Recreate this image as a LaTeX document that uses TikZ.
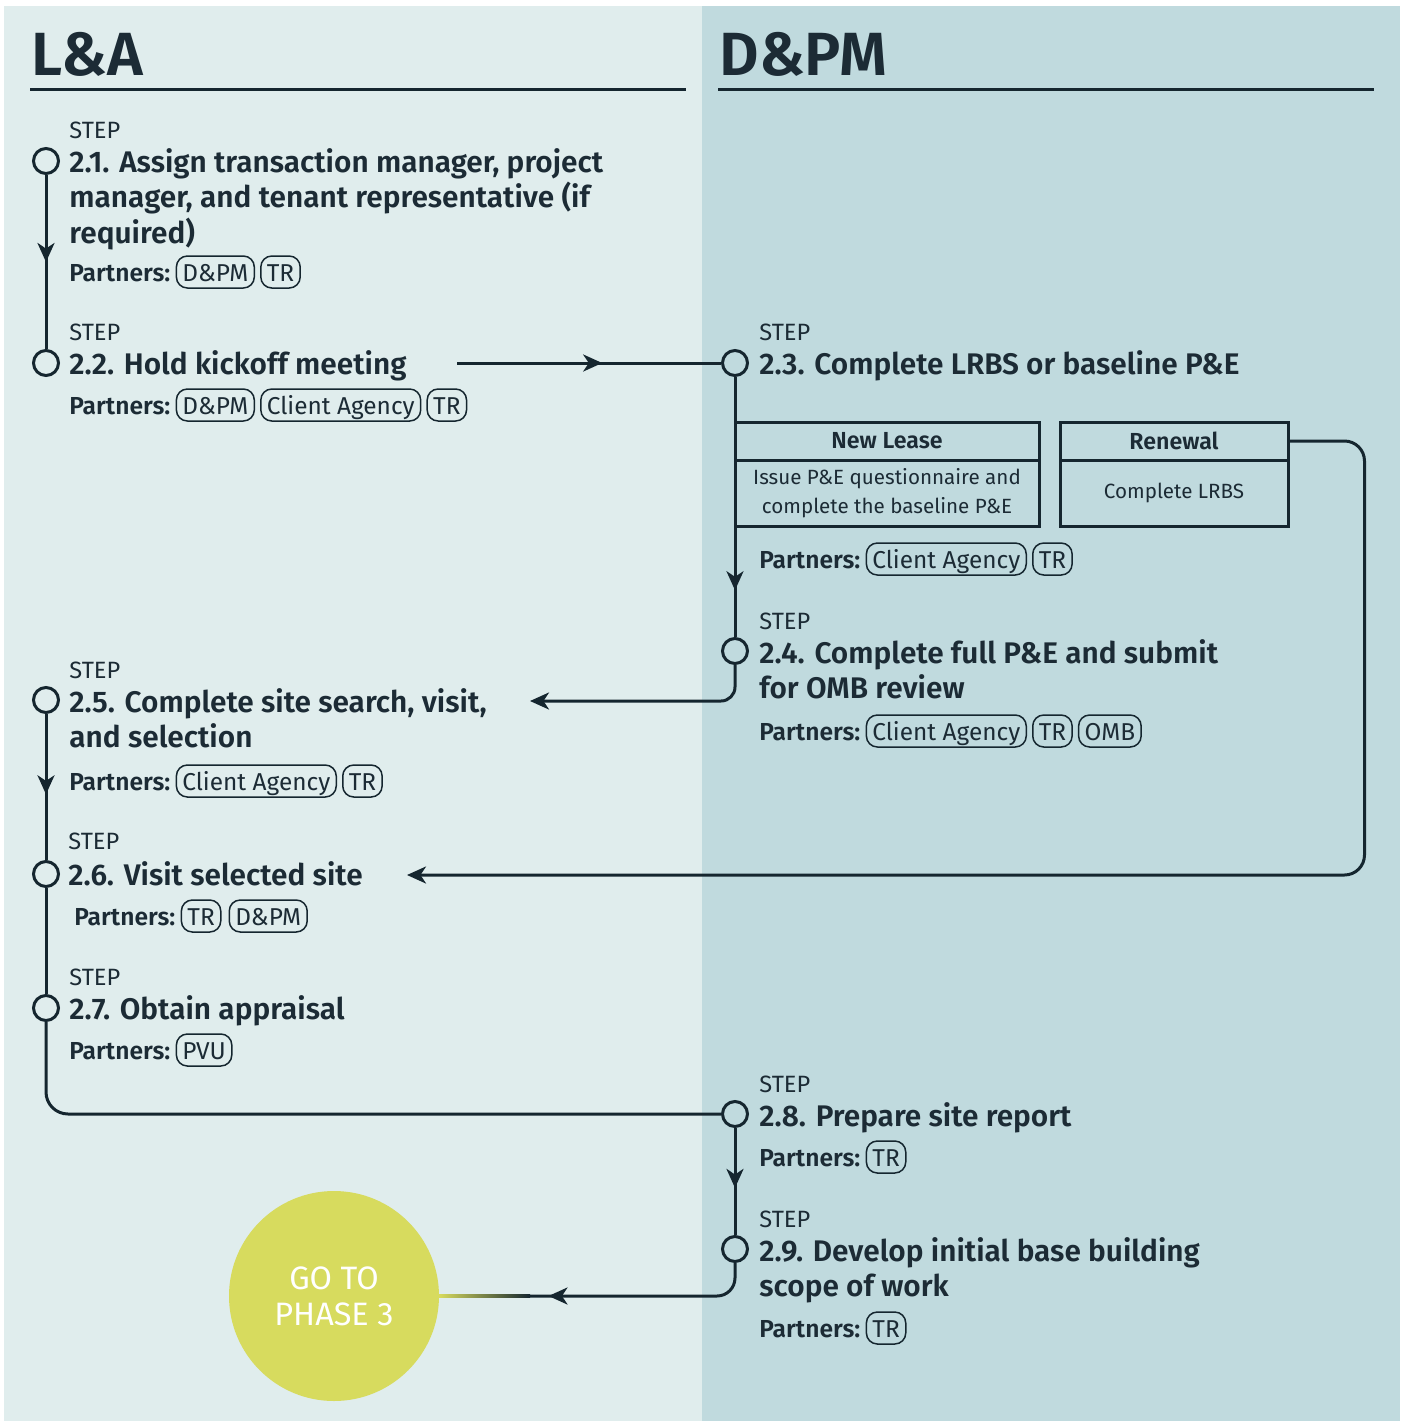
\documentclass[tikz,border=0pt]{standalone}
\usepackage{fontspec}
\setmainfont{Fira Sans}[BoldFont={Fira Sans SemiBold}]
\usetikzlibrary{arrows.meta,decorations.markings,calc}
\definecolor{bgL}{HTML}{E0EDED}
\definecolor{bgR}{HTML}{C0DADE}
\definecolor{ink}{HTML}{15262F}
\definecolor{txt}{HTML}{1C2B35}
\definecolor{goy}{HTML}{D7DB5E}
\begin{document}
\begin{tikzpicture}[x=0.5pt,y=-0.5pt,
  tip/.tip={Stealth[length=9.5pt,width=8.5pt,inset=2.8pt]},
  conn/.style={draw=ink,line width=1.5pt},
  midarrow/.style={postaction={decorate},decoration={markings,mark=at position #1 with {\arrow{tip}}}},
  stepdot/.style={circle,draw=ink,line width=1.5pt,minimum size=12.5pt,inner sep=0pt,fill=none},
  hdr/.style={anchor=base west,inner sep=0pt,font=\fontsize{30.5}{36}\selectfont\bfseries,text=txt},
  steplbl/.style={anchor=base west,inner sep=0pt,font=\fontsize{11.8}{13}\selectfont,text=txt},
  title/.style={anchor=base west,inner sep=0pt,align=left,font=\fontsize{14.9}{17.75}\selectfont\bfseries,text=txt},
  plabel/.style={anchor=base west,inner sep=0pt,font=\fontsize{12.3}{14}\selectfont\bfseries,text=txt},
  pill/.style={anchor=base west,draw=ink,line width=0.75pt,rounded corners=5.5pt,inner xsep=3pt,inner ysep=3.5pt,text height=9pt,text depth=0pt,font=\fontsize{12.2}{14}\selectfont,text=txt},
  boxhead/.style={draw=ink,line width=1.5pt,minimum height=19pt,inner sep=0pt,font=\fontsize{11.6}{13}\selectfont\bfseries,text=txt},
  boxbody/.style={draw=ink,line width=1.5pt,minimum height=33pt,inner sep=0pt,align=center,font=\fontsize{10.3}{14.5}\selectfont,text=txt},
  rulestyle/.style={draw=ink,line width=1.5pt}
]
\useasboundingbox (0,0) rectangle (1405,1421);
\fill[white] (0,0) rectangle (1405,1421);
\fill[bgL] (4,6) rectangle (702,1421);
\fill[bgR] (702,6) rectangle (1400,1421);

% headers
\node[hdr] (hLA) at (31,75) {L\&A};
\node[hdr] (hDP) at (719,75) {D\&PM};
\draw[rulestyle] (30,89) -- (686,89);
\draw[rulestyle] (718,89) -- (1374,89);

% step circles
\node[stepdot] (c21) at (46,161) {};
\node[stepdot] (c22) at (46,363) {};
\node[stepdot] (c23) at (735,363) {};
\node[stepdot] (c24) at (735,651) {};
\node[stepdot] (c25) at (46,700) {};
\node[stepdot] (c26) at (46,874) {};
\node[stepdot] (c27) at (46,1008) {};
\node[stepdot] (c28) at (735,1114) {};
\node[stepdot] (c29) at (735,1249) {};

% go to phase 3
\node[circle,fill=goy,minimum size=105pt,inner sep=0pt,align=center,text=white,
      font=\fontsize{16.2}{18}\selectfont] (g3) at (334,1296) {GO TO\\PHASE 3};

% step 2.1 (multi-line titles are anchored on their last baseline)
\node[steplbl] (s21) at (69,138) {STEP};
\node[title] (t21) at (69,243) {2.1. Assign transaction manager, project\\manager, and tenant representative (if\\required)};
\node[plabel] (p21) at (69,281) {Partners:};
\node[pill] (p21a) at ([xshift=2.5pt]p21.base east) {D\&PM};
\node[pill] (p21b) at ([xshift=2.5pt]p21a.base east) {TR};

% step 2.2
\node[steplbl] (s22) at (69,340) {STEP};
\node[title] (t22) at (69,374) {2.2. Hold kickoff meeting};
\node[plabel] (p22) at (69,414) {Partners:};
\node[pill] (p22a) at ([xshift=2.5pt]p22.base east) {D\&PM};
\node[pill] (p22b) at ([xshift=2.5pt]p22a.base east) {Client Agency};
\node[pill] (p22c) at ([xshift=2.5pt]p22b.base east) {TR};

% step 2.3
\node[steplbl] (s23) at (759,340) {STEP};
\node[title] (t23) at (759,374) {2.3. Complete LRBS or baseline P\&E};
\node[boxhead,minimum width=152pt] (nlh) at (887,441) {New Lease};
\node[boxbody,minimum width=152pt] (nlb) at (887,493) {Issue P\&E questionnaire and\\complete the baseline P\&E};
\node[boxhead,minimum width=114pt] (rnh) at (1174,441) {Renewal};
\node[boxbody,minimum width=114pt] (rnb) at (1174,493) {Complete LRBS};
\node[plabel] (p23) at (759,568) {Partners:};
\node[pill] (p23a) at ([xshift=2.5pt]p23.base east) {Client Agency};
\node[pill] (p23b) at ([xshift=2.5pt]p23a.base east) {TR};

% step 2.4
\node[steplbl] (s24) at (759,629) {STEP};
\node[title] (t24) at (759,698.5) {2.4. Complete full P\&E and submit\\for OMB review};
\node[plabel] (p24) at (759,740) {Partners:};
\node[pill] (p24a) at ([xshift=2.5pt]p24.base east) {Client Agency};
\node[pill] (p24b) at ([xshift=2.5pt]p24a.base east) {TR};
\node[pill] (p24c) at ([xshift=2.5pt]p24b.base east) {OMB};

% step 2.5
\node[steplbl] (s25) at (69,678) {STEP};
\node[title] (t25) at (69,747.5) {2.5. Complete site search, visit,\\and selection};
\node[plabel] (p25) at (69,790) {Partners:};
\node[pill] (p25a) at ([xshift=2.5pt]p25.base east) {Client Agency};
\node[pill] (p25b) at ([xshift=2.5pt]p25a.base east) {TR};

% step 2.6
\node[steplbl] (s26) at (68,849) {STEP};
\node[title] (t26) at (68,885) {2.6. Visit selected site};
\node[plabel] (p26) at (74,925) {Partners:};
\node[pill] (p26a) at ([xshift=2.5pt]p26.base east) {TR};
\node[pill] (p26b) at ([xshift=3.5pt]p26a.base east) {D\&PM};

% step 2.7
\node[steplbl] (s27) at (69,985) {STEP};
\node[title] (t27) at (69,1019) {2.7. Obtain appraisal};
\node[plabel] (p27) at (69,1059) {Partners:};
\node[pill] (p27a) at ([xshift=2.5pt]p27.base east) {PVU};

% step 2.8
\node[steplbl] (s28) at (759,1092) {STEP};
\node[title] (t28) at (759,1126) {2.8. Prepare site report};
\node[plabel] (p28) at (759,1166) {Partners:};
\node[pill] (p28a) at ([xshift=2.5pt]p28.base east) {TR};

% step 2.9
\node[steplbl] (s29) at (759,1227) {STEP};
\node[title] (t29) at (759,1296.5) {2.9. Develop initial base building\\scope of work};
\node[plabel] (p29) at (759,1337) {Partners:};
\node[pill] (p29a) at ([xshift=2.5pt]p29.base east) {TR};

% connectors
\coordinate (k22) at (457,363);
\coordinate (a25) at (530,701);
\coordinate (a26) at (407,875);
\draw[conn,midarrow=0.5] (c21) -- (c22);
\draw[conn,midarrow=0.55] (k22) -- (c23);
\draw[conn,midarrow=0.82] (c23) -- (c24);
\draw[conn,rounded corners=7pt,-tip] (c24.south) |- (a25);
\draw[conn,midarrow=0.55] (c25) -- (c26);
\draw[conn] (c26) -- (c27);
\draw[conn,rounded corners=11pt] (c27.south) |- (c28.west);
\draw[conn,midarrow=0.56] (c28) -- (c29);
\draw[conn,rounded corners=10pt,-tip] (rnh.east) -- ++(75,0) |- (a26);
\draw[conn,rounded corners=9pt,midarrow=0.66] (c29.south) |- (g3.east);
\shade[left color=goy,right color=ink] (439,1294.5) rectangle (530,1297.5);
\end{tikzpicture}
\end{document}
